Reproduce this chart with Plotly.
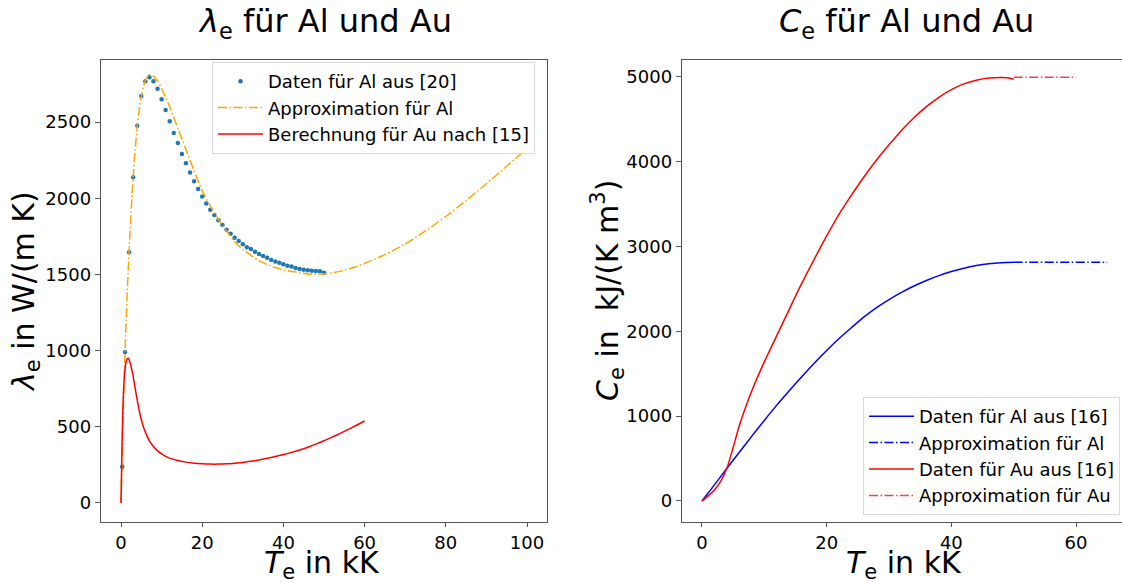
import plotly.graph_objects as go

# ---------------- data ----------------
# left: thermal conductivity lambda_e in W/(m K), T_e in kK
al_data_T = [0.3] + list(range(1, 51))
al_data_lam = [238, 991, 1645, 2137, 2476, 2671, 2767, 2793, 2767, 2719,
               2649, 2579, 2505, 2428, 2362, 2290, 2229, 2168, 2111, 2060,
               2012, 1966, 1925, 1890, 1855, 1824, 1793, 1767, 1741, 1719,
               1698, 1678, 1666, 1648, 1634, 1621, 1609, 1595, 1585, 1576,
               1566, 1557, 1551, 1542, 1535, 1531, 1527, 1524, 1522, 1520, 1511]

al_approx_T = [0, 1, 2, 3, 4, 5, 6, 7, 8, 9, 10, 11, 12, 13, 14, 15, 16, 18,
               20, 22, 24, 26, 28, 30, 32, 34, 36, 38, 40, 43, 46, 48, 50,
               52, 55, 58, 60, 65, 70, 75, 80, 85, 90, 95, 100]
al_approx_lam = [0, 1000, 1660, 2140, 2470, 2670, 2770, 2810, 2800, 2770,
                 2720, 2660, 2600, 2530, 2460, 2390, 2320, 2180, 2050, 1950,
                 1860, 1785, 1715, 1665, 1625, 1590, 1565, 1545, 1530, 1515,
                 1503, 1501, 1504, 1510, 1527, 1552, 1572, 1630, 1700, 1785,
                 1880, 1985, 2095, 2210, 2325]

au_calc_T = [0, 0.2, 0.4, 0.6, 0.8, 1.0, 1.2, 1.5, 1.8, 2.1, 2.4, 2.7, 3,
             3.5, 4, 4.5, 5, 5.5, 6, 7, 8, 9, 10, 11, 12, 14, 16, 18, 20, 22,
             24, 26, 28, 30, 32, 34, 36, 38, 40, 42, 44, 46, 48, 50, 52, 54,
             56, 58, 60]
au_calc_lam = [0, 300, 560, 720, 820, 880, 920, 945, 950, 935, 905, 870, 830,
               750, 675, 605, 548, 501, 465, 408, 370, 342, 322, 306, 294,
               278, 268, 261, 257, 255, 255, 257, 261, 266, 273, 282, 293,
               305, 318, 332, 348, 366, 386, 408, 432, 457, 483, 510, 538]

# right: heat capacity C_e in kJ/(K m^3)
al_cap_T = [0, 2, 4, 6, 8, 10, 12, 14, 16, 18, 20, 22, 24, 26, 28, 30, 32,
            34, 36, 38, 40, 42, 44, 46, 48, 50]
al_cap_C = [0, 190, 385, 575, 765, 950, 1130, 1300, 1465, 1625, 1775, 1915,
            2045, 2170, 2280, 2375, 2460, 2535, 2600, 2657, 2705, 2745, 2776,
            2798, 2810, 2815]
al_cap_approx_T = [50, 65]
al_cap_approx_C = [2815, 2815]

au_cap_T = [0, 1, 2, 3, 4, 5, 6, 7, 8, 9, 10, 11, 12, 14, 16, 18, 20, 22,
            24, 26, 28, 30, 32, 34, 36, 38, 40, 42, 44, 46, 48, 49, 50]
au_cap_C = [0, 60, 130, 230, 386, 630, 890, 1105, 1300, 1475, 1640, 1797,
            1950, 2260, 2565, 2850, 3125, 3383, 3610, 3824, 4020, 4200, 4370,
            4520, 4650, 4760, 4850, 4918, 4962, 4987, 4994, 4990, 4973]
au_cap_approx_T = [50, 60]
au_cap_approx_C = [4996, 4996]

left_xticks = [0, 20, 40, 60, 80, 100]
left_yticks = [0, 500, 1000, 1500, 2000, 2500]
right_xticks = [0, 20, 40, 60]
right_yticks = [0, 1000, 2000, 3000, 4000, 5000]

# ---------------- figure ----------------
W, H = 1122, 582
FONT = "DejaVu Sans"
SPINE = "#555555"
DASHDOT = "9px,2.5px,1.5px,2.5px"

fig = go.Figure()

fig.add_trace(go.Scatter(x=al_data_T, y=al_data_lam, mode="markers",
                         marker=dict(color="#1f77b4", size=4.5),
                         name="Daten für Al aus [20]", legend="legend",
                         xaxis="x", yaxis="y"))
fig.add_trace(go.Scatter(x=al_approx_T, y=al_approx_lam, mode="lines",
                         line=dict(color="orange", width=1.5, dash=DASHDOT,
                                   shape="spline", smoothing=0.8),
                         name="Approximation für Al", legend="legend",
                         xaxis="x", yaxis="y"))
fig.add_trace(go.Scatter(x=au_calc_T, y=au_calc_lam, mode="lines",
                         line=dict(color="red", width=1.5,
                                   shape="spline", smoothing=0.6),
                         name="Berechnung für Au nach [15]", legend="legend",
                         xaxis="x", yaxis="y"))

fig.add_trace(go.Scatter(x=al_cap_T, y=al_cap_C, mode="lines",
                         line=dict(color="blue", width=1.5,
                                   shape="spline", smoothing=0.8),
                         name="Daten für Al aus [16]", legend="legend2",
                         xaxis="x2", yaxis="y2"))
fig.add_trace(go.Scatter(x=al_cap_approx_T, y=al_cap_approx_C, mode="lines",
                         line=dict(color="blue", width=1.5, dash=DASHDOT),
                         name="Approximation für Al", legend="legend2",
                         xaxis="x2", yaxis="y2"))
fig.add_trace(go.Scatter(x=au_cap_T, y=au_cap_C, mode="lines",
                         line=dict(color="red", width=1.5,
                                   shape="spline", smoothing=0.8),
                         name="Daten für Au aus [16]", legend="legend2",
                         xaxis="x2", yaxis="y2"))
fig.add_trace(go.Scatter(x=au_cap_approx_T, y=au_cap_approx_C, mode="lines",
                         line=dict(color="rgba(255,0,0,0.75)", width=1.5,
                                   dash=DASHDOT),
                         name="Approximation für Au", legend="legend2",
                         xaxis="x2", yaxis="y2"))

ydom = [1 - 522 / H, 1 - 60 / H]
axis_common = dict(showgrid=False, zeroline=False, showline=True,
                   linecolor=SPINE, linewidth=1, ticks="outside",
                   tickcolor=SPINE,
                   tickfont=dict(family=FONT, size=18, color="black"))

fig.update_layout(
    width=W, height=H, margin=dict(l=0, r=0, t=0, b=0),
    paper_bgcolor="white", plot_bgcolor="white",
    font=dict(family=FONT, color="black"),
    xaxis=dict(domain=[100.7 / W, 547.3 / W], range=[-5, 105], ticklen=4,
               tickvals=left_xticks, mirror=True, anchor="y", **axis_common),
    yaxis=dict(domain=ydom, range=[-125, 2907], tickvals=left_yticks,
               ticklen=5, mirror=True, anchor="x", **axis_common),
    xaxis2=dict(domain=[681.7 / W, 1.0], range=[-3.25, 67.37], ticklen=4,
                tickvals=right_xticks, mirror=True, anchor="y2", **axis_common),
    yaxis2=dict(domain=ydom, range=[-248, 5200], tickvals=right_yticks,
                ticklen=5, mirror=False, anchor="x2", **axis_common),
    legend=dict(x=212 / W, y=1 - 62 / H, xanchor="left", yanchor="top",
                bgcolor="rgba(255,255,255,0.8)", bordercolor="#d9d9d9",
                borderwidth=1,
                font=dict(family=FONT, size=18, color="black"),
                tracegroupgap=0, itemwidth=45),
    legend2=dict(x=1120 / W, y=1 - 515 / H, xanchor="right", yanchor="bottom",
                 bgcolor="rgba(255,255,255,0.8)", bordercolor="#d9d9d9",
                 borderwidth=1,
                 font=dict(family=FONT, size=18, color="black"),
                 tracegroupgap=0, itemwidth=45),
    showlegend=True,
)

ann = []
ann.append(dict(text="<i>λ</i><sub>e</sub> für Al und Au", x=325 / W,
                y=1 - 23 / H, xref="paper", yref="paper", showarrow=False,
                xanchor="center", yanchor="middle",
                font=dict(family=FONT, size=32, color="black")))
ann.append(dict(text="<i>C</i><sub>e</sub> für Al und Au", x=906 / W,
                y=1 - 23 / H, xref="paper", yref="paper", showarrow=False,
                xanchor="center", yanchor="middle",
                font=dict(family=FONT, size=32, color="black")))
ann.append(dict(text="<i>T</i><sub>e</sub> in kK", x=322 / W, y=1 - 564 / H,
                xref="paper", yref="paper", showarrow=False,
                xanchor="center", yanchor="middle",
                font=dict(family=FONT, size=30, color="black")))
ann.append(dict(text="<i>T</i><sub>e</sub> in kK", x=904 / W, y=1 - 564 / H,
                xref="paper", yref="paper", showarrow=False,
                xanchor="center", yanchor="middle",
                font=dict(family=FONT, size=30, color="black")))
ann.append(dict(text="<i>λ</i><sub>e</sub> in W/(m K)", x=25 / W,
                y=1 - 292 / H, xref="paper", yref="paper", showarrow=False,
                xanchor="center", yanchor="middle", textangle=-90,
                font=dict(family=FONT, size=30, color="black")))
ann.append(dict(text="<i>C</i><sub>e</sub> in&nbsp; kJ/(K m<sup>3</sup>)",
                x=607 / W, y=1 - 291 / H, xref="paper", yref="paper",
                showarrow=False, xanchor="center", yanchor="middle",
                textangle=-90,
                font=dict(family=FONT, size=30, color="black")))
fig.update_layout(annotations=ann)

fig.write_html("out.html")
